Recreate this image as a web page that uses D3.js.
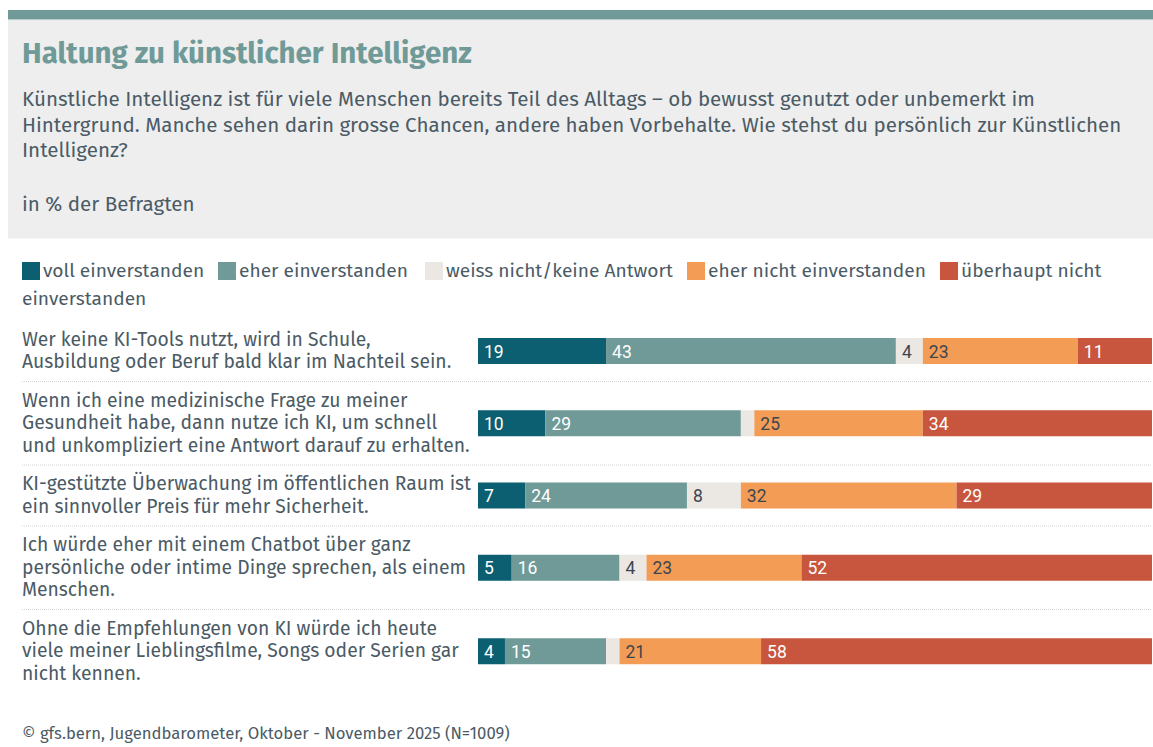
<!DOCTYPE html>
<html>
<head>
<meta charset="utf-8">
<script src="https://cdn.jsdelivr.net/npm/d3@7"></script>
<style>
  html, body { margin: 0; padding: 0; background: #fff; }
  svg { display: block; }
</style>
</head>
<body>
<svg id="chart" width="1153" height="747"></svg>
<script>
// Statements (row labels, pre-wrapped as in the source graphic)
const statements = [
  ["Wer keine KI-Tools nutzt, wird in Schule,", "Ausbildung oder Beruf bald klar im Nachteil sein."],
  ["Wenn ich eine medizinische Frage zu meiner", "Gesundheit habe, dann nutze ich KI, um schnell", "und unkompliziert eine Antwort darauf zu erhalten."],
  ["KI-gestützte Überwachung im öffentlichen Raum ist", "ein sinnvoller Preis für mehr Sicherheit."],
  ["Ich würde eher mit einem Chatbot über ganz", "persönliche oder intime Dinge sprechen, als einem", "Menschen."],
  ["Ohne die Empfehlungen von KI würde ich heute", "viele meiner Lieblingsfilme, Songs oder Serien gar", "nicht kennen."]
];

const answers = ["voll einverstanden", "eher einverstanden", "weiss nicht/keine Antwort", "eher nicht einverstanden", "überhaupt nicht einverstanden"];

// in % of respondents, one array per answer
const vollEinverstanden = [19, 10, 7, 5, 4];
const eherEinverstanden = [43, 29, 24, 16, 15];
const weissNicht = [4, 2, 8, 4, 2];
const eherNicht = [23, 25, 32, 23, 21];
const ueberhauptNicht = [11, 34, 29, 52, 58];

const COLORS = ["#0b5f70", "#6f9a97", "#ebe7e3", "#f39c55", "#c8563e"];
const LABEL_COLORS = ["#fff", "#fff", "#3d4650", "#3d4650", "#fff"];
const TEXT = "#4b5b66";
const FONT = "'Fira Sans', 'Noto Sans', sans-serif";
const NUM_FONT = "Roboto, sans-serif";

const W = 1153, H = 747;
const svg = d3.select("#chart");

// Fira Sans is not installed: scale the fallback so a text keeps its source width
function sizeFor(sel, width) {
  const base = +sel.attr("font-size") || 18;
  return base * width / sel.node().getComputedTextLength();
}
function fit(sel, width) {
  return sel.attr("font-size", sizeFor(sel, width).toFixed(2));
}

// ---- header box
svg.append("rect").attr("x", 8).attr("y", 10).attr("width", W - 8).attr("height", 9).attr("fill", "#6f9a97");
svg.append("rect").attr("x", 8).attr("y", 19).attr("width", W - 8).attr("height", 1.5).attr("fill", "#b9cccb");
svg.append("rect").attr("x", 8).attr("y", 20.5).attr("width", W - 8).attr("height", 218).attr("fill", "#eeeeee");

fit(svg.append("text")
  .attr("x", 22).attr("y", 63)
  .attr("font-family", FONT).attr("font-weight", 700).attr("font-size", 25)
  .attr("fill", "#6f9a97")
  .text("Haltung zu künstlicher Intelligenz"), 450);

const subtitle = [
  "Künstliche Intelligenz ist für viele Menschen bereits Teil des Alltags – ob bewusst genutzt oder unbemerkt im",
  "Hintergrund. Manche sehen darin grosse Chancen, andere haben Vorbehalte. Wie stehst du persönlich zur Künstlichen",
  "Intelligenz?"
];
const sub = svg.append("g").attr("font-family", FONT).attr("font-size", 18).attr("fill", TEXT);
sub.selectAll("text").data(subtitle).join("text")
  .attr("x", 22).attr("y", (d, i) => 106 + i * 25.5)
  .text(d => d);
const subSize = sizeFor(sub.select("text"), 1013);
sub.attr("font-size", subSize.toFixed(2));

svg.append("text")
  .attr("x", 22).attr("y", 211)
  .attr("font-family", FONT).attr("font-size", subSize.toFixed(2)).attr("fill", TEXT)
  .text("in % der Befragten");

// ---- legend (wraps like the source)
const legend = svg.append("g").attr("font-family", FONT).attr("font-size", 18).attr("fill", TEXT);
const legendX = [22, 218, 425, 687, 940];
const ly = 262;
answers.forEach((name, i) => {
  const lx = legendX[i];
  legend.append("rect").attr("x", lx).attr("y", ly).attr("width", 18).attr("height", 18).attr("fill", COLORS[i]);
  legend.append("text").attr("x", lx + 21).attr("y", ly + 15).text(i === 4 ? "überhaupt nicht" : name);
  if (i === 4) legend.append("text").attr("x", 22).attr("y", ly + 43).text("einverstanden");
});
legend.attr("font-size", sizeFor(legend.selectAll("text").filter((d, i) => i === 2), 227).toFixed(2));

// ---- rows: stacked sequentially, height follows the number of label lines
const lineH = 22.5, barH = 26, gap = 8;
const centers = [];
let rowTop = 328.5;
statements.forEach(s => {
  const h = Math.max(s.length * lineH, barH);
  centers.push(rowTop + h / 2);
  rowTop += h + 2 * gap;
});
const y = d3.scaleOrdinal().domain(d3.range(statements.length)).range(centers);
const x = d3.scaleLinear().domain([0, 100]).range([478, 1152]);

// separators
statements.slice(0, -1).forEach((s, i) => {
  const bottom = y(i) + Math.max(s.length * lineH, barH) / 2 + gap;
  svg.append("line")
    .attr("x1", 22).attr("x2", 1152)
    .attr("y1", bottom).attr("y2", bottom)
    .attr("stroke", "#d6d6d6").attr("stroke-width", 1).attr("stroke-dasharray", "1,1");
});

// row labels
const labels = svg.append("g").attr("font-family", FONT).attr("font-size", 18).attr("fill", TEXT);
statements.forEach((s, i) => {
  const t0 = y(i) - s.length * lineH / 2;
  s.forEach((line, k) => {
    labels.append("text").attr("x", 22).attr("y", t0 + k * lineH + 17).text(line);
  });
});
// one common size for all row labels, taken from the longest line
const longest = labels.selectAll("text").filter(function () { return this.textContent.startsWith("und unkompliziert"); });
labels.attr("font-size", sizeFor(longest, 448).toFixed(2));

// bars
const rows = statements.map((s, i) => {
  const r = { key: i };
  [vollEinverstanden, eherEinverstanden, weissNicht, eherNicht, ueberhauptNicht]
    .forEach((v, j) => { r[answers[j]] = v[i]; });
  return r;
});
const stacked = d3.stack().keys(answers)(rows);

const layers = svg.append("g").selectAll("g").data(stacked).join("g")
  .attr("fill", (d, i) => COLORS[i]);

layers.selectAll("rect").data(d => d).join("rect")
  .attr("x", d => x(d[0]))
  .attr("y", d => y(d.data.key) - barH / 2)
  .attr("width", d => x(d[1]) - x(d[0]))
  .attr("height", barH);

layers.each(function (layer, li) {
  d3.select(this).selectAll("text").data(layer.filter(d => d[1] - d[0] >= 3)).join("text")
    .attr("x", d => x(d[0]) + 6)
    .attr("y", d => y(d.data.key) + 6.5)
    .attr("font-family", NUM_FONT).attr("font-size", 17.5)
    .attr("fill", LABEL_COLORS[li])
    .text(d => d[1] - d[0]);
});

// ---- source
fit(svg.append("text")
  .attr("x", 22).attr("y", 739)
  .attr("font-family", FONT).attr("font-size", 16).attr("fill", TEXT)
  .text("© gfs.bern, Jugendbarometer, Oktober - November 2025 (N=1009)"), 488);
</script>
</body>
</html>
